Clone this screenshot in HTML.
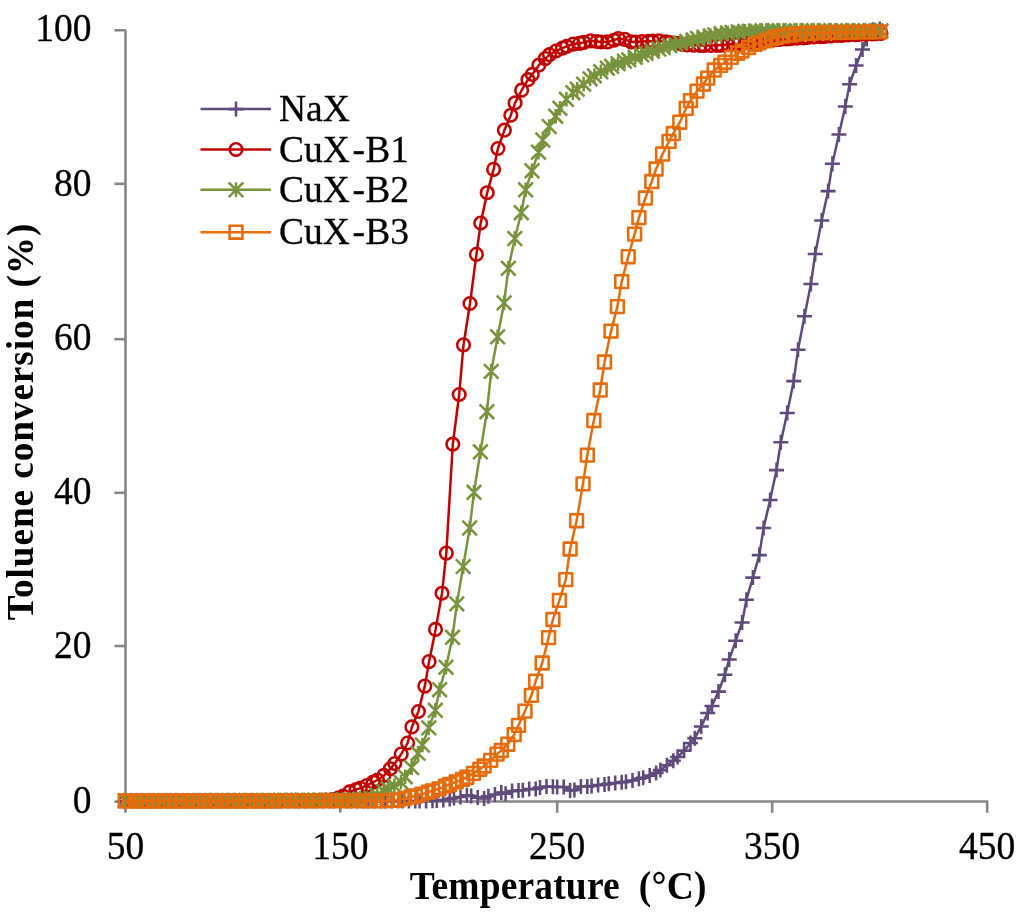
<!DOCTYPE html>
<html lang="en">
<head>
<meta charset="utf-8">
<title>Toluene conversion vs temperature</title>
<style>
html,body{margin:0;padding:0;background:#fff;}
body{width:1024px;height:912px;overflow:hidden;font-family:"Liberation Serif",serif;}
svg{display:block;}
text{filter:grayscale(1);}
text{font-family:"Liberation Serif",serif;fill:#000;stroke:#000;stroke-width:0.3px;}
.tick{font-size:37.5px;}
.ttl{font-size:37.5px;font-weight:bold;stroke:none;}
.ttly{font-size:37.2px;}
.leg{font-size:37.5px;}
</style>
</head>
<body>
<svg width="1024" height="912" viewBox="0 0 1024 912">
<rect x="0" y="0" width="1024" height="912" fill="#ffffff"/>

<g stroke="#868686" stroke-width="2.6" fill="none" stroke-linecap="butt">
<path stroke-linejoin="bevel" d="M114.4 30.3H125.5V812.7"/>
<path stroke-linejoin="round" d="M124.20 801.5H987.2V812.7"/>
<path d="M114.4 801.70H125.5"/>
<path d="M114.4 646.00H125.5"/>
<path d="M114.4 492.85H125.5"/>
<path d="M114.4 339.15H125.5"/>
<path d="M114.4 183.80H125.5"/>
<path d="M340.30 801.5V812.7"/>
<path d="M557.20 801.5V812.7"/>
<path d="M772.20 801.5V812.7"/>
</g>
<text class="tick" transform="translate(91.4 813.2) scale(1 1.065)" text-anchor="end">0</text>
<text class="tick" transform="translate(91.4 657.5) scale(1 1.065)" text-anchor="end">20</text>
<text class="tick" transform="translate(91.4 504.4) scale(1 1.065)" text-anchor="end">40</text>
<text class="tick" transform="translate(91.4 350.4) scale(1 1.065)" text-anchor="end">60</text>
<text class="tick" transform="translate(91.4 195.8) scale(1 1.065)" text-anchor="end">80</text>
<text class="tick" transform="translate(91.4 41.4) scale(1 1.065)" text-anchor="end">100</text>
<text class="tick" transform="translate(125.5 859.2) scale(1 1.065)" text-anchor="middle">50</text>
<text class="tick" transform="translate(340.3 859.2) scale(1 1.065)" text-anchor="middle">150</text>
<text class="tick" transform="translate(557.2 859.2) scale(1 1.065)" text-anchor="middle">250</text>
<text class="tick" transform="translate(772.2 859.2) scale(1 1.065)" text-anchor="middle">350</text>
<text class="tick" transform="translate(987.2 859.2) scale(1 1.065)" text-anchor="middle">450</text>
<text class="ttl" transform="translate(409.8 898.6) scale(1 1.05)" textLength="296.6" lengthAdjust="spacing" xml:space="preserve">Temperature  (°C)</text>
<text class="ttl ttly" transform="translate(32.9 620.3) rotate(-90)" textLength="396.6" lengthAdjust="spacing" xml:space="preserve">Toluene conversion (%)</text>
<g stroke="#604A7B" fill="none" stroke-linejoin="round">
<polyline stroke-width="2.5" points="125.2,801.0 133.7,801.0 140.1,801.0 144.4,801.0 150.9,801.0 157.3,801.0 161.6,801.0 168.1,801.0 174.5,801.0 178.8,801.0 185.3,801.0 191.7,801.0 196.0,801.0 202.5,801.0 208.9,801.0 213.2,801.0 219.7,801.0 226.1,801.0 230.4,801.0 236.9,801.0 243.3,801.0 247.6,801.0 254.1,801.0 260.5,801.0 264.8,801.0 271.3,801.0 277.7,801.0 282.0,801.0 288.5,801.0 294.9,801.0 299.2,801.0 305.7,801.0 312.1,801.0 316.4,801.0 322.9,801.0 329.3,801.0 333.6,801.0 340.1,801.0 346.5,801.0 350.8,801.0 357.3,801.0 363.7,801.0 368.0,801.0 374.5,801.0 380.9,801.0 385.2,801.0 391.7,801.0 398.1,801.0 402.4,801.0 408.9,801.0 415.3,801.0 419.6,801.0 426.1,800.9 432.5,800.8 436.8,800.6 443.3,800.1 449.7,799.0 454.0,798.0 460.5,797.0 466.9,795.3 471.2,796.0 477.7,797.6 484.1,798.4 488.4,796.3 494.9,794.4 501.3,792.6 505.6,793.7 512.1,791.1 518.5,790.4 522.8,790.2 529.2,789.1 535.7,788.9 540.0,787.5 546.5,786.5 552.9,786.8 557.2,786.9 563.7,786.9 570.1,790.4 574.4,790.0 580.9,786.5 587.3,786.4 591.6,786.0 598.1,785.1 604.5,784.4 608.8,783.8 615.2,782.9 621.7,782.3 626.0,781.7 632.5,780.4 638.9,778.7 643.2,777.7 649.7,775.6 656.1,772.9 660.4,770.1 666.9,765.3 673.3,760.8 677.6,757.0 684.1,750.6 690.5,743.0 694.8,738.2 701.2,726.4 707.7,713.0 712.0,705.9 718.5,691.6 724.9,674.7 729.2,659.4 735.7,640.8 742.1,622.5 746.4,599.7 752.9,577.6 759.3,555.1 763.6,527.9 770.1,500.0 776.5,470.1 780.8,442.3 787.2,413.0 793.7,381.1 798.0,349.7 804.5,316.3 810.9,283.9 815.2,254.0 821.7,220.4 828.1,191.1 832.4,163.8 838.9,134.4 845.3,106.4 849.6,84.3 856.1,65.5 862.5,49.4 866.8,39.0 873.2,29.8 879.7,29.0"/>
<path stroke-width="2.55" d="M117.7 801.0H132.7M125.2 793.5V808.5M126.2 801.0H141.2M133.7 793.5V808.5M132.6 801.0H147.6M140.1 793.5V808.5M136.9 801.0H151.9M144.4 793.5V808.5M143.4 801.0H158.4M150.9 793.5V808.5M149.8 801.0H164.8M157.3 793.5V808.5M154.1 801.0H169.1M161.6 793.5V808.5M160.6 801.0H175.6M168.1 793.5V808.5M167.0 801.0H182.0M174.5 793.5V808.5M171.3 801.0H186.3M178.8 793.5V808.5M177.8 801.0H192.8M185.3 793.5V808.5M184.2 801.0H199.2M191.7 793.5V808.5M188.5 801.0H203.5M196.0 793.5V808.5M195.0 801.0H210.0M202.5 793.5V808.5M201.4 801.0H216.4M208.9 793.5V808.5M205.7 801.0H220.7M213.2 793.5V808.5M212.2 801.0H227.2M219.7 793.5V808.5M218.6 801.0H233.6M226.1 793.5V808.5M222.9 801.0H237.9M230.4 793.5V808.5M229.4 801.0H244.4M236.9 793.5V808.5M235.8 801.0H250.8M243.3 793.5V808.5M240.1 801.0H255.1M247.6 793.5V808.5M246.6 801.0H261.6M254.1 793.5V808.5M253.0 801.0H268.0M260.5 793.5V808.5M257.3 801.0H272.3M264.8 793.5V808.5M263.8 801.0H278.8M271.3 793.5V808.5M270.2 801.0H285.2M277.7 793.5V808.5M274.5 801.0H289.5M282.0 793.5V808.5M281.0 801.0H296.0M288.5 793.5V808.5M287.4 801.0H302.4M294.9 793.5V808.5M291.7 801.0H306.7M299.2 793.5V808.5M298.2 801.0H313.2M305.7 793.5V808.5M304.6 801.0H319.6M312.1 793.5V808.5M308.9 801.0H323.9M316.4 793.5V808.5M315.4 801.0H330.4M322.9 793.5V808.5M321.8 801.0H336.8M329.3 793.5V808.5M326.1 801.0H341.1M333.6 793.5V808.5M332.6 801.0H347.6M340.1 793.5V808.5M339.0 801.0H354.0M346.5 793.5V808.5M343.3 801.0H358.3M350.8 793.5V808.5M349.8 801.0H364.8M357.3 793.5V808.5M356.2 801.0H371.2M363.7 793.5V808.5M360.5 801.0H375.5M368.0 793.5V808.5M367.0 801.0H382.0M374.5 793.5V808.5M373.4 801.0H388.4M380.9 793.5V808.5M377.7 801.0H392.7M385.2 793.5V808.5M384.2 801.0H399.2M391.7 793.5V808.5M390.6 801.0H405.6M398.1 793.5V808.5M394.9 801.0H409.9M402.4 793.5V808.5M401.4 801.0H416.4M408.9 793.5V808.5M407.8 801.0H422.8M415.3 793.5V808.5M412.1 801.0H427.1M419.6 793.5V808.5M418.6 800.9H433.6M426.1 793.4V808.4M425.0 800.8H440.0M432.5 793.3V808.3M429.3 800.6H444.3M436.8 793.1V808.1M435.8 800.1H450.8M443.3 792.6V807.6M442.2 799.0H457.2M449.7 791.5V806.5M446.5 798.0H461.5M454.0 790.5V805.5M453.0 797.0H468.0M460.5 789.5V804.5M459.4 795.3H474.4M466.9 787.8V802.8M463.7 796.0H478.7M471.2 788.5V803.5M470.2 797.6H485.2M477.7 790.1V805.1M476.6 798.4H491.6M484.1 790.9V805.9M480.9 796.3H495.9M488.4 788.8V803.8M487.4 794.4H502.4M494.9 786.9V801.9M493.8 792.6H508.8M501.3 785.1V800.1M498.1 793.7H513.1M505.6 786.2V801.2M504.6 791.1H519.6M512.1 783.6V798.6M511.0 790.4H526.0M518.5 782.9V797.9M515.3 790.2H530.3M522.8 782.7V797.7M521.8 789.1H536.8M529.2 781.6V796.6M528.2 788.9H543.2M535.7 781.4V796.4M532.5 787.5H547.5M540.0 780.0V795.0M539.0 786.5H554.0M546.5 779.0V794.0M545.4 786.8H560.4M552.9 779.3V794.3M549.7 786.9H564.7M557.2 779.4V794.4M556.2 786.9H571.2M563.7 779.4V794.4M562.6 790.4H577.6M570.1 782.9V797.9M566.9 790.0H581.9M574.4 782.5V797.5M573.4 786.5H588.4M580.9 779.0V794.0M579.8 786.4H594.8M587.3 778.9V793.9M584.1 786.0H599.1M591.6 778.5V793.5M590.6 785.1H605.6M598.1 777.6V792.6M597.0 784.4H612.0M604.5 776.9V791.9M601.3 783.8H616.3M608.8 776.3V791.3M607.8 782.9H622.8M615.2 775.4V790.4M614.2 782.3H629.2M621.7 774.8V789.8M618.5 781.7H633.5M626.0 774.2V789.2M625.0 780.4H640.0M632.5 772.9V787.9M631.4 778.7H646.4M638.9 771.2V786.2M635.7 777.7H650.7M643.2 770.2V785.2M642.2 775.6H657.2M649.7 768.1V783.1M648.6 772.9H663.6M656.1 765.4V780.4M652.9 770.1H667.9M660.4 762.6V777.6M659.4 765.3H674.4M666.9 757.8V772.8M665.8 760.8H680.8M673.3 753.3V768.3M670.1 757.0H685.1M677.6 749.5V764.5M676.6 750.6H691.6M684.1 743.1V758.1M683.0 743.0H698.0M690.5 735.5V750.5M687.3 738.2H702.3M694.8 730.7V745.7M693.8 726.4H708.8M701.2 718.9V733.9M700.2 713.0H715.2M707.7 705.5V720.5M704.5 705.9H719.5M712.0 698.4V713.4M711.0 691.6H726.0M718.5 684.1V699.1M717.4 674.7H732.4M724.9 667.2V682.2M721.7 659.4H736.7M729.2 651.9V666.9M728.2 640.8H743.2M735.7 633.3V648.3M734.6 622.5H749.6M742.1 615.0V630.0M738.9 599.7H753.9M746.4 592.2V607.2M745.4 577.6H760.4M752.9 570.1V585.1M751.8 555.1H766.8M759.3 547.6V562.6M756.1 527.9H771.1M763.6 520.4V535.4M762.6 500.0H777.6M770.1 492.5V507.5M769.0 470.1H784.0M776.5 462.6V477.6M773.3 442.3H788.3M780.8 434.8V449.8M779.8 413.0H794.8M787.2 405.5V420.5M786.2 381.1H801.2M793.7 373.6V388.6M790.5 349.7H805.5M798.0 342.2V357.2M797.0 316.3H812.0M804.5 308.8V323.8M803.4 283.9H818.4M810.9 276.4V291.4M807.7 254.0H822.7M815.2 246.5V261.5M814.2 220.4H829.2M821.7 212.9V227.9M820.6 191.1H835.6M828.1 183.6V198.6M824.9 163.8H839.9M832.4 156.3V171.3M831.4 134.4H846.4M838.9 126.9V141.9M837.8 106.4H852.8M845.3 98.9V113.9M842.1 84.3H857.1M849.6 76.8V91.8M848.6 65.5H863.6M856.1 58.0V73.0M855.0 49.4H870.0M862.5 41.9V56.9M859.3 39.0H874.3M866.8 31.5V46.5M865.8 29.8H880.8M873.2 22.3V37.3M872.2 29.0H887.2M879.7 21.5V36.5"/>
</g>
<g stroke="#C00000" fill="none" stroke-linejoin="round">
<polyline stroke-width="2.5" points="125.2,800.9 132.4,800.9 136.7,800.9 143.2,800.9 149.6,800.9 153.9,800.9 160.4,800.9 166.8,800.9 171.1,800.9 177.6,800.9 184.0,800.9 188.3,800.9 194.8,800.9 201.2,800.9 205.5,800.9 212.0,800.9 218.4,800.9 222.7,800.9 229.2,800.8 235.6,800.8 239.9,800.8 246.4,800.8 252.8,800.8 257.1,800.8 263.6,800.8 270.0,800.8 274.3,800.8 280.8,800.7 287.2,800.7 291.5,800.7 298.0,800.7 304.4,800.7 308.7,800.6 315.2,800.5 321.6,800.2 325.9,800.0 332.4,799.5 338.8,797.9 343.1,796.0 349.6,791.9 356.0,789.6 360.3,788.1 366.8,785.5 373.2,782.2 377.5,780.0 384.0,775.4 390.4,768.7 394.7,763.5 401.2,754.1 407.6,743.0 411.9,726.9 418.4,711.5 424.8,686.1 429.1,661.6 435.6,629.4 442.0,593.2 446.3,553.1 452.8,444.2 459.2,394.5 463.5,344.9 470.0,303.5 476.4,254.4 480.7,223.0 487.2,192.7 493.6,169.4 497.9,148.5 504.4,130.2 510.8,115.2 515.1,102.9 521.6,90.2 528.0,79.7 532.3,74.4 538.8,65.2 545.2,58.6 549.5,54.7 556.0,51.0 562.4,48.1 566.7,46.3 573.1,44.1 579.6,43.3 583.9,42.4 590.4,40.8 596.8,41.5 601.1,42.0 607.6,41.9 614.0,40.2 618.3,38.5 624.8,39.3 631.2,41.8 635.5,42.0 642.0,41.6 648.4,41.3 652.7,41.2 659.1,40.9 665.6,41.8 669.9,42.5 676.4,43.4 682.8,44.3 687.1,44.8 693.6,45.1 700.0,45.4 704.3,45.4 710.8,45.5 717.2,45.3 721.5,45.1 728.0,44.6 734.4,44.1 738.7,43.7 745.1,42.9 751.6,42.1 755.9,41.6 762.4,41.0 768.8,40.4 773.1,40.0 779.6,39.5 786.0,39.0 790.3,38.7 796.8,38.2 803.2,37.8 807.5,37.5 814.0,37.0 820.4,36.6 824.7,36.3 831.1,35.9 837.6,35.5 841.9,35.3 848.4,34.9 854.8,34.6 859.1,34.4 865.6,34.1 872.0,33.8 876.3,33.6 881.0,33.4"/>
<path stroke-width="2.55" d="M118.9 800.9a6.3 6.3 0 1 0 12.6 0a6.3 6.3 0 1 0 -12.6 0zM126.1 800.9a6.3 6.3 0 1 0 12.6 0a6.3 6.3 0 1 0 -12.6 0zM130.4 800.9a6.3 6.3 0 1 0 12.6 0a6.3 6.3 0 1 0 -12.6 0zM136.9 800.9a6.3 6.3 0 1 0 12.6 0a6.3 6.3 0 1 0 -12.6 0zM143.3 800.9a6.3 6.3 0 1 0 12.6 0a6.3 6.3 0 1 0 -12.6 0zM147.6 800.9a6.3 6.3 0 1 0 12.6 0a6.3 6.3 0 1 0 -12.6 0zM154.1 800.9a6.3 6.3 0 1 0 12.6 0a6.3 6.3 0 1 0 -12.6 0zM160.5 800.9a6.3 6.3 0 1 0 12.6 0a6.3 6.3 0 1 0 -12.6 0zM164.8 800.9a6.3 6.3 0 1 0 12.6 0a6.3 6.3 0 1 0 -12.6 0zM171.3 800.9a6.3 6.3 0 1 0 12.6 0a6.3 6.3 0 1 0 -12.6 0zM177.7 800.9a6.3 6.3 0 1 0 12.6 0a6.3 6.3 0 1 0 -12.6 0zM182.0 800.9a6.3 6.3 0 1 0 12.6 0a6.3 6.3 0 1 0 -12.6 0zM188.5 800.9a6.3 6.3 0 1 0 12.6 0a6.3 6.3 0 1 0 -12.6 0zM194.9 800.9a6.3 6.3 0 1 0 12.6 0a6.3 6.3 0 1 0 -12.6 0zM199.2 800.9a6.3 6.3 0 1 0 12.6 0a6.3 6.3 0 1 0 -12.6 0zM205.7 800.9a6.3 6.3 0 1 0 12.6 0a6.3 6.3 0 1 0 -12.6 0zM212.1 800.9a6.3 6.3 0 1 0 12.6 0a6.3 6.3 0 1 0 -12.6 0zM216.4 800.9a6.3 6.3 0 1 0 12.6 0a6.3 6.3 0 1 0 -12.6 0zM222.9 800.8a6.3 6.3 0 1 0 12.6 0a6.3 6.3 0 1 0 -12.6 0zM229.3 800.8a6.3 6.3 0 1 0 12.6 0a6.3 6.3 0 1 0 -12.6 0zM233.6 800.8a6.3 6.3 0 1 0 12.6 0a6.3 6.3 0 1 0 -12.6 0zM240.1 800.8a6.3 6.3 0 1 0 12.6 0a6.3 6.3 0 1 0 -12.6 0zM246.5 800.8a6.3 6.3 0 1 0 12.6 0a6.3 6.3 0 1 0 -12.6 0zM250.8 800.8a6.3 6.3 0 1 0 12.6 0a6.3 6.3 0 1 0 -12.6 0zM257.3 800.8a6.3 6.3 0 1 0 12.6 0a6.3 6.3 0 1 0 -12.6 0zM263.7 800.8a6.3 6.3 0 1 0 12.6 0a6.3 6.3 0 1 0 -12.6 0zM268.0 800.8a6.3 6.3 0 1 0 12.6 0a6.3 6.3 0 1 0 -12.6 0zM274.5 800.7a6.3 6.3 0 1 0 12.6 0a6.3 6.3 0 1 0 -12.6 0zM280.9 800.7a6.3 6.3 0 1 0 12.6 0a6.3 6.3 0 1 0 -12.6 0zM285.2 800.7a6.3 6.3 0 1 0 12.6 0a6.3 6.3 0 1 0 -12.6 0zM291.7 800.7a6.3 6.3 0 1 0 12.6 0a6.3 6.3 0 1 0 -12.6 0zM298.1 800.7a6.3 6.3 0 1 0 12.6 0a6.3 6.3 0 1 0 -12.6 0zM302.4 800.6a6.3 6.3 0 1 0 12.6 0a6.3 6.3 0 1 0 -12.6 0zM308.9 800.5a6.3 6.3 0 1 0 12.6 0a6.3 6.3 0 1 0 -12.6 0zM315.3 800.2a6.3 6.3 0 1 0 12.6 0a6.3 6.3 0 1 0 -12.6 0zM319.6 800.0a6.3 6.3 0 1 0 12.6 0a6.3 6.3 0 1 0 -12.6 0zM326.1 799.5a6.3 6.3 0 1 0 12.6 0a6.3 6.3 0 1 0 -12.6 0zM332.5 797.9a6.3 6.3 0 1 0 12.6 0a6.3 6.3 0 1 0 -12.6 0zM336.8 796.0a6.3 6.3 0 1 0 12.6 0a6.3 6.3 0 1 0 -12.6 0zM343.3 791.9a6.3 6.3 0 1 0 12.6 0a6.3 6.3 0 1 0 -12.6 0zM349.7 789.6a6.3 6.3 0 1 0 12.6 0a6.3 6.3 0 1 0 -12.6 0zM354.0 788.1a6.3 6.3 0 1 0 12.6 0a6.3 6.3 0 1 0 -12.6 0zM360.5 785.5a6.3 6.3 0 1 0 12.6 0a6.3 6.3 0 1 0 -12.6 0zM366.9 782.2a6.3 6.3 0 1 0 12.6 0a6.3 6.3 0 1 0 -12.6 0zM371.2 780.0a6.3 6.3 0 1 0 12.6 0a6.3 6.3 0 1 0 -12.6 0zM377.7 775.4a6.3 6.3 0 1 0 12.6 0a6.3 6.3 0 1 0 -12.6 0zM384.1 768.7a6.3 6.3 0 1 0 12.6 0a6.3 6.3 0 1 0 -12.6 0zM388.4 763.5a6.3 6.3 0 1 0 12.6 0a6.3 6.3 0 1 0 -12.6 0zM394.9 754.1a6.3 6.3 0 1 0 12.6 0a6.3 6.3 0 1 0 -12.6 0zM401.3 743.0a6.3 6.3 0 1 0 12.6 0a6.3 6.3 0 1 0 -12.6 0zM405.6 726.9a6.3 6.3 0 1 0 12.6 0a6.3 6.3 0 1 0 -12.6 0zM412.1 711.5a6.3 6.3 0 1 0 12.6 0a6.3 6.3 0 1 0 -12.6 0zM418.5 686.1a6.3 6.3 0 1 0 12.6 0a6.3 6.3 0 1 0 -12.6 0zM422.8 661.6a6.3 6.3 0 1 0 12.6 0a6.3 6.3 0 1 0 -12.6 0zM429.2 629.4a6.3 6.3 0 1 0 12.6 0a6.3 6.3 0 1 0 -12.6 0zM435.7 593.2a6.3 6.3 0 1 0 12.6 0a6.3 6.3 0 1 0 -12.6 0zM440.0 553.1a6.3 6.3 0 1 0 12.6 0a6.3 6.3 0 1 0 -12.6 0zM446.5 444.2a6.3 6.3 0 1 0 12.6 0a6.3 6.3 0 1 0 -12.6 0zM452.9 394.5a6.3 6.3 0 1 0 12.6 0a6.3 6.3 0 1 0 -12.6 0zM457.2 344.9a6.3 6.3 0 1 0 12.6 0a6.3 6.3 0 1 0 -12.6 0zM463.7 303.5a6.3 6.3 0 1 0 12.6 0a6.3 6.3 0 1 0 -12.6 0zM470.1 254.4a6.3 6.3 0 1 0 12.6 0a6.3 6.3 0 1 0 -12.6 0zM474.4 223.0a6.3 6.3 0 1 0 12.6 0a6.3 6.3 0 1 0 -12.6 0zM480.9 192.7a6.3 6.3 0 1 0 12.6 0a6.3 6.3 0 1 0 -12.6 0zM487.3 169.4a6.3 6.3 0 1 0 12.6 0a6.3 6.3 0 1 0 -12.6 0zM491.6 148.5a6.3 6.3 0 1 0 12.6 0a6.3 6.3 0 1 0 -12.6 0zM498.1 130.2a6.3 6.3 0 1 0 12.6 0a6.3 6.3 0 1 0 -12.6 0zM504.5 115.2a6.3 6.3 0 1 0 12.6 0a6.3 6.3 0 1 0 -12.6 0zM508.8 102.9a6.3 6.3 0 1 0 12.6 0a6.3 6.3 0 1 0 -12.6 0zM515.3 90.2a6.3 6.3 0 1 0 12.6 0a6.3 6.3 0 1 0 -12.6 0zM521.7 79.7a6.3 6.3 0 1 0 12.6 0a6.3 6.3 0 1 0 -12.6 0zM526.0 74.4a6.3 6.3 0 1 0 12.6 0a6.3 6.3 0 1 0 -12.6 0zM532.5 65.2a6.3 6.3 0 1 0 12.6 0a6.3 6.3 0 1 0 -12.6 0zM538.9 58.6a6.3 6.3 0 1 0 12.6 0a6.3 6.3 0 1 0 -12.6 0zM543.2 54.7a6.3 6.3 0 1 0 12.6 0a6.3 6.3 0 1 0 -12.6 0zM549.7 51.0a6.3 6.3 0 1 0 12.6 0a6.3 6.3 0 1 0 -12.6 0zM556.1 48.1a6.3 6.3 0 1 0 12.6 0a6.3 6.3 0 1 0 -12.6 0zM560.4 46.3a6.3 6.3 0 1 0 12.6 0a6.3 6.3 0 1 0 -12.6 0zM566.9 44.1a6.3 6.3 0 1 0 12.6 0a6.3 6.3 0 1 0 -12.6 0zM573.3 43.3a6.3 6.3 0 1 0 12.6 0a6.3 6.3 0 1 0 -12.6 0zM577.6 42.4a6.3 6.3 0 1 0 12.6 0a6.3 6.3 0 1 0 -12.6 0zM584.1 40.8a6.3 6.3 0 1 0 12.6 0a6.3 6.3 0 1 0 -12.6 0zM590.5 41.5a6.3 6.3 0 1 0 12.6 0a6.3 6.3 0 1 0 -12.6 0zM594.8 42.0a6.3 6.3 0 1 0 12.6 0a6.3 6.3 0 1 0 -12.6 0zM601.3 41.9a6.3 6.3 0 1 0 12.6 0a6.3 6.3 0 1 0 -12.6 0zM607.7 40.2a6.3 6.3 0 1 0 12.6 0a6.3 6.3 0 1 0 -12.6 0zM612.0 38.5a6.3 6.3 0 1 0 12.6 0a6.3 6.3 0 1 0 -12.6 0zM618.5 39.3a6.3 6.3 0 1 0 12.6 0a6.3 6.3 0 1 0 -12.6 0zM624.9 41.8a6.3 6.3 0 1 0 12.6 0a6.3 6.3 0 1 0 -12.6 0zM629.2 42.0a6.3 6.3 0 1 0 12.6 0a6.3 6.3 0 1 0 -12.6 0zM635.7 41.6a6.3 6.3 0 1 0 12.6 0a6.3 6.3 0 1 0 -12.6 0zM642.1 41.3a6.3 6.3 0 1 0 12.6 0a6.3 6.3 0 1 0 -12.6 0zM646.4 41.2a6.3 6.3 0 1 0 12.6 0a6.3 6.3 0 1 0 -12.6 0zM652.9 40.9a6.3 6.3 0 1 0 12.6 0a6.3 6.3 0 1 0 -12.6 0zM659.3 41.8a6.3 6.3 0 1 0 12.6 0a6.3 6.3 0 1 0 -12.6 0zM663.6 42.5a6.3 6.3 0 1 0 12.6 0a6.3 6.3 0 1 0 -12.6 0zM670.1 43.4a6.3 6.3 0 1 0 12.6 0a6.3 6.3 0 1 0 -12.6 0zM676.5 44.3a6.3 6.3 0 1 0 12.6 0a6.3 6.3 0 1 0 -12.6 0zM680.8 44.8a6.3 6.3 0 1 0 12.6 0a6.3 6.3 0 1 0 -12.6 0zM687.3 45.1a6.3 6.3 0 1 0 12.6 0a6.3 6.3 0 1 0 -12.6 0zM693.7 45.4a6.3 6.3 0 1 0 12.6 0a6.3 6.3 0 1 0 -12.6 0zM698.0 45.4a6.3 6.3 0 1 0 12.6 0a6.3 6.3 0 1 0 -12.6 0zM704.5 45.5a6.3 6.3 0 1 0 12.6 0a6.3 6.3 0 1 0 -12.6 0zM710.9 45.3a6.3 6.3 0 1 0 12.6 0a6.3 6.3 0 1 0 -12.6 0zM715.2 45.1a6.3 6.3 0 1 0 12.6 0a6.3 6.3 0 1 0 -12.6 0zM721.7 44.6a6.3 6.3 0 1 0 12.6 0a6.3 6.3 0 1 0 -12.6 0zM728.1 44.1a6.3 6.3 0 1 0 12.6 0a6.3 6.3 0 1 0 -12.6 0zM732.4 43.7a6.3 6.3 0 1 0 12.6 0a6.3 6.3 0 1 0 -12.6 0zM738.9 42.9a6.3 6.3 0 1 0 12.6 0a6.3 6.3 0 1 0 -12.6 0zM745.3 42.1a6.3 6.3 0 1 0 12.6 0a6.3 6.3 0 1 0 -12.6 0zM749.6 41.6a6.3 6.3 0 1 0 12.6 0a6.3 6.3 0 1 0 -12.6 0zM756.1 41.0a6.3 6.3 0 1 0 12.6 0a6.3 6.3 0 1 0 -12.6 0zM762.5 40.4a6.3 6.3 0 1 0 12.6 0a6.3 6.3 0 1 0 -12.6 0zM766.8 40.0a6.3 6.3 0 1 0 12.6 0a6.3 6.3 0 1 0 -12.6 0zM773.3 39.5a6.3 6.3 0 1 0 12.6 0a6.3 6.3 0 1 0 -12.6 0zM779.7 39.0a6.3 6.3 0 1 0 12.6 0a6.3 6.3 0 1 0 -12.6 0zM784.0 38.7a6.3 6.3 0 1 0 12.6 0a6.3 6.3 0 1 0 -12.6 0zM790.5 38.2a6.3 6.3 0 1 0 12.6 0a6.3 6.3 0 1 0 -12.6 0zM796.9 37.8a6.3 6.3 0 1 0 12.6 0a6.3 6.3 0 1 0 -12.6 0zM801.2 37.5a6.3 6.3 0 1 0 12.6 0a6.3 6.3 0 1 0 -12.6 0zM807.7 37.0a6.3 6.3 0 1 0 12.6 0a6.3 6.3 0 1 0 -12.6 0zM814.1 36.6a6.3 6.3 0 1 0 12.6 0a6.3 6.3 0 1 0 -12.6 0zM818.4 36.3a6.3 6.3 0 1 0 12.6 0a6.3 6.3 0 1 0 -12.6 0zM824.9 35.9a6.3 6.3 0 1 0 12.6 0a6.3 6.3 0 1 0 -12.6 0zM831.3 35.5a6.3 6.3 0 1 0 12.6 0a6.3 6.3 0 1 0 -12.6 0zM835.6 35.3a6.3 6.3 0 1 0 12.6 0a6.3 6.3 0 1 0 -12.6 0zM842.1 34.9a6.3 6.3 0 1 0 12.6 0a6.3 6.3 0 1 0 -12.6 0zM848.5 34.6a6.3 6.3 0 1 0 12.6 0a6.3 6.3 0 1 0 -12.6 0zM852.8 34.4a6.3 6.3 0 1 0 12.6 0a6.3 6.3 0 1 0 -12.6 0zM859.3 34.1a6.3 6.3 0 1 0 12.6 0a6.3 6.3 0 1 0 -12.6 0zM865.7 33.8a6.3 6.3 0 1 0 12.6 0a6.3 6.3 0 1 0 -12.6 0zM870.0 33.6a6.3 6.3 0 1 0 12.6 0a6.3 6.3 0 1 0 -12.6 0zM874.7 33.4a6.3 6.3 0 1 0 12.6 0a6.3 6.3 0 1 0 -12.6 0z"/>
</g>
<g stroke="#77933C" fill="none" stroke-linejoin="round">
<polyline stroke-width="2.5" points="125.2,800.6 130.0,800.6 136.4,800.6 142.9,800.6 147.2,800.6 153.6,800.6 160.1,800.6 164.4,800.6 170.8,800.6 177.3,800.6 181.6,800.6 188.0,800.6 194.5,800.6 198.8,800.6 205.2,800.5 211.7,800.5 216.0,800.5 222.4,800.5 228.9,800.5 233.2,800.5 239.6,800.5 246.1,800.4 250.4,800.4 256.8,800.4 263.3,800.4 267.6,800.4 274.0,800.4 280.5,800.3 284.8,800.3 291.2,800.3 297.7,800.2 302.0,800.2 308.4,800.2 314.9,800.2 319.2,800.1 325.6,800.1 332.1,800.1 336.4,800.0 342.8,800.0 349.3,799.8 353.6,799.6 360.0,799.2 366.5,798.7 370.8,798.2 377.2,795.3 383.7,791.3 388.0,788.5 394.4,785.8 400.9,782.2 405.2,776.7 411.6,767.6 418.1,753.4 422.4,745.0 428.8,727.9 435.3,710.3 439.6,689.7 446.0,667.2 452.5,637.3 456.8,603.9 463.2,566.6 469.7,528.0 474.0,492.3 480.4,451.8 486.9,411.7 491.2,371.4 497.6,336.8 504.1,302.9 508.4,268.3 514.8,238.5 521.3,212.7 525.6,189.8 532.0,170.8 538.5,152.2 542.8,140.0 549.2,126.5 555.7,116.2 560.0,108.3 566.4,99.3 572.9,92.7 577.2,89.2 583.6,84.1 590.1,78.9 594.4,75.9 600.8,71.8 607.3,68.2 611.6,66.3 618.0,63.7 624.5,61.2 628.8,59.9 635.2,57.3 641.7,54.8 646.0,53.3 652.4,51.2 658.9,49.0 663.2,47.5 669.6,45.5 676.1,44.4 680.4,43.0 686.8,41.4 693.3,40.0 697.6,38.5 704.0,37.3 710.5,35.9 714.8,34.9 721.2,33.8 727.7,33.0 732.0,32.5 738.4,31.9 744.9,31.4 749.2,31.2 755.6,30.9 762.1,30.8 766.4,30.8 772.8,30.7 779.3,30.7 783.6,30.6 790.0,30.6 796.5,30.6 800.8,30.6 807.2,30.6 813.7,30.6 818.0,30.6 824.4,30.6 830.9,30.6 835.2,30.6 841.6,30.6 848.1,30.6 852.4,30.7 858.8,30.7 865.3,30.7 869.6,30.7 876.0,30.8 881.0,30.8"/>
<path stroke-width="2.55" d="M117.9 793.3L132.5 807.9M117.9 807.9L132.5 793.3M125.2 793.3V807.9M122.7 793.3L137.3 807.9M122.7 807.9L137.3 793.3M130.0 793.3V807.9M129.1 793.3L143.7 807.9M129.1 807.9L143.7 793.3M136.4 793.3V807.9M135.6 793.3L150.2 807.9M135.6 807.9L150.2 793.3M142.9 793.3V807.9M139.9 793.3L154.5 807.9M139.9 807.9L154.5 793.3M147.2 793.3V807.9M146.3 793.3L160.9 807.9M146.3 807.9L160.9 793.3M153.6 793.3V807.9M152.8 793.3L167.4 807.9M152.8 807.9L167.4 793.3M160.1 793.3V807.9M157.1 793.3L171.7 807.9M157.1 807.9L171.7 793.3M164.4 793.3V807.9M163.5 793.3L178.1 807.9M163.5 807.9L178.1 793.3M170.8 793.3V807.9M170.0 793.3L184.6 807.9M170.0 807.9L184.6 793.3M177.3 793.3V807.9M174.3 793.3L188.9 807.9M174.3 807.9L188.9 793.3M181.6 793.3V807.9M180.7 793.3L195.3 807.9M180.7 807.9L195.3 793.3M188.0 793.3V807.9M187.2 793.3L201.8 807.9M187.2 807.9L201.8 793.3M194.5 793.3V807.9M191.5 793.3L206.1 807.9M191.5 807.9L206.1 793.3M198.8 793.3V807.9M197.9 793.2L212.5 807.8M197.9 807.8L212.5 793.2M205.2 793.2V807.8M204.4 793.2L219.0 807.8M204.4 807.8L219.0 793.2M211.7 793.2V807.8M208.7 793.2L223.3 807.8M208.7 807.8L223.3 793.2M216.0 793.2V807.8M215.1 793.2L229.7 807.8M215.1 807.8L229.7 793.2M222.4 793.2V807.8M221.6 793.2L236.2 807.8M221.6 807.8L236.2 793.2M228.9 793.2V807.8M225.9 793.2L240.5 807.8M225.9 807.8L240.5 793.2M233.2 793.2V807.8M232.3 793.2L246.9 807.8M232.3 807.8L246.9 793.2M239.6 793.2V807.8M238.8 793.1L253.4 807.7M238.8 807.7L253.4 793.1M246.1 793.1V807.7M243.1 793.1L257.7 807.7M243.1 807.7L257.7 793.1M250.4 793.1V807.7M249.5 793.1L264.1 807.7M249.5 807.7L264.1 793.1M256.8 793.1V807.7M256.0 793.1L270.6 807.7M256.0 807.7L270.6 793.1M263.3 793.1V807.7M260.3 793.1L274.9 807.7M260.3 807.7L274.9 793.1M267.6 793.1V807.7M266.7 793.1L281.3 807.7M266.7 807.7L281.3 793.1M274.0 793.1V807.7M273.2 793.0L287.8 807.6M273.2 807.6L287.8 793.0M280.5 793.0V807.6M277.5 793.0L292.1 807.6M277.5 807.6L292.1 793.0M284.8 793.0V807.6M283.9 793.0L298.5 807.6M283.9 807.6L298.5 793.0M291.2 793.0V807.6M290.4 792.9L305.0 807.5M290.4 807.5L305.0 792.9M297.7 792.9V807.5M294.7 792.9L309.3 807.5M294.7 807.5L309.3 792.9M302.0 792.9V807.5M301.1 792.9L315.7 807.5M301.1 807.5L315.7 792.9M308.4 792.9V807.5M307.6 792.9L322.2 807.5M307.6 807.5L322.2 792.9M314.9 792.9V807.5M311.9 792.8L326.5 807.4M311.9 807.4L326.5 792.8M319.2 792.8V807.4M318.3 792.8L332.9 807.4M318.3 807.4L332.9 792.8M325.6 792.8V807.4M324.8 792.8L339.4 807.4M324.8 807.4L339.4 792.8M332.1 792.8V807.4M329.1 792.7L343.7 807.3M329.1 807.3L343.7 792.7M336.4 792.7V807.3M335.5 792.7L350.1 807.3M335.5 807.3L350.1 792.7M342.8 792.7V807.3M342.0 792.5L356.6 807.1M342.0 807.1L356.6 792.5M349.3 792.5V807.1M346.3 792.3L360.9 806.9M346.3 806.9L360.9 792.3M353.6 792.3V806.9M352.7 791.9L367.3 806.5M352.7 806.5L367.3 791.9M360.0 791.9V806.5M359.2 791.4L373.8 806.0M359.2 806.0L373.8 791.4M366.5 791.4V806.0M363.5 790.9L378.1 805.5M363.5 805.5L378.1 790.9M370.8 790.9V805.5M369.9 788.0L384.5 802.6M369.9 802.6L384.5 788.0M377.2 788.0V802.6M376.4 784.0L391.0 798.6M376.4 798.6L391.0 784.0M383.7 784.0V798.6M380.7 781.2L395.3 795.8M380.7 795.8L395.3 781.2M388.0 781.2V795.8M387.1 778.5L401.7 793.1M387.1 793.1L401.7 778.5M394.4 778.5V793.1M393.6 774.9L408.2 789.5M393.6 789.5L408.2 774.9M400.9 774.9V789.5M397.9 769.4L412.5 784.0M397.9 784.0L412.5 769.4M405.2 769.4V784.0M404.3 760.3L418.9 774.9M404.3 774.9L418.9 760.3M411.6 760.3V774.9M410.8 746.1L425.4 760.7M410.8 760.7L425.4 746.1M418.1 746.1V760.7M415.1 737.7L429.7 752.3M415.1 752.3L429.7 737.7M422.4 737.7V752.3M421.5 720.6L436.1 735.2M421.5 735.2L436.1 720.6M428.8 720.6V735.2M428.0 703.0L442.6 717.6M428.0 717.6L442.6 703.0M435.3 703.0V717.6M432.3 682.4L446.9 697.0M432.3 697.0L446.9 682.4M439.6 682.4V697.0M438.7 659.9L453.3 674.5M438.7 674.5L453.3 659.9M446.0 659.9V674.5M445.2 630.0L459.8 644.6M445.2 644.6L459.8 630.0M452.5 630.0V644.6M449.5 596.6L464.1 611.2M449.5 611.2L464.1 596.6M456.8 596.6V611.2M455.9 559.3L470.5 573.9M455.9 573.9L470.5 559.3M463.2 559.3V573.9M462.4 520.7L477.0 535.3M462.4 535.3L477.0 520.7M469.7 520.7V535.3M466.7 485.0L481.3 499.6M466.7 499.6L481.3 485.0M474.0 485.0V499.6M473.1 444.5L487.7 459.1M473.1 459.1L487.7 444.5M480.4 444.5V459.1M479.6 404.4L494.2 419.0M479.6 419.0L494.2 404.4M486.9 404.4V419.0M483.9 364.1L498.5 378.7M483.9 378.7L498.5 364.1M491.2 364.1V378.7M490.3 329.5L504.9 344.1M490.3 344.1L504.9 329.5M497.6 329.5V344.1M496.8 295.6L511.4 310.2M496.8 310.2L511.4 295.6M504.1 295.6V310.2M501.1 261.0L515.7 275.6M501.1 275.6L515.7 261.0M508.4 261.0V275.6M507.5 231.2L522.1 245.8M507.5 245.8L522.1 231.2M514.8 231.2V245.8M514.0 205.4L528.6 220.0M514.0 220.0L528.6 205.4M521.3 205.4V220.0M518.3 182.5L532.9 197.1M518.3 197.1L532.9 182.5M525.6 182.5V197.1M524.7 163.5L539.3 178.1M524.7 178.1L539.3 163.5M532.0 163.5V178.1M531.2 144.9L545.8 159.5M531.2 159.5L545.8 144.9M538.5 144.9V159.5M535.5 132.7L550.1 147.3M535.5 147.3L550.1 132.7M542.8 132.7V147.3M541.9 119.2L556.5 133.8M541.9 133.8L556.5 119.2M549.2 119.2V133.8M548.4 108.9L563.0 123.5M548.4 123.5L563.0 108.9M555.7 108.9V123.5M552.7 101.0L567.2 115.6M552.7 115.6L567.2 101.0M560.0 101.0V115.6M559.1 92.0L573.7 106.6M559.1 106.6L573.7 92.0M566.4 92.0V106.6M565.6 85.4L580.1 100.0M565.6 100.0L580.1 85.4M572.9 85.4V100.0M569.9 81.9L584.5 96.5M569.9 96.5L584.5 81.9M577.2 81.9V96.5M576.3 76.8L590.9 91.4M576.3 91.4L590.9 76.8M583.6 76.8V91.4M582.8 71.6L597.4 86.2M582.8 86.2L597.4 71.6M590.1 71.6V86.2M587.1 68.6L601.6 83.2M587.1 83.2L601.6 68.6M594.4 68.6V83.2M593.5 64.5L608.1 79.1M593.5 79.1L608.1 64.5M600.8 64.5V79.1M600.0 60.9L614.6 75.5M600.0 75.5L614.6 60.9M607.3 60.9V75.5M604.3 59.0L618.9 73.6M604.3 73.6L618.9 59.0M611.6 59.0V73.6M610.7 56.4L625.3 71.0M610.7 71.0L625.3 56.4M618.0 56.4V71.0M617.2 53.9L631.8 68.5M617.2 68.5L631.8 53.9M624.5 53.9V68.5M621.5 52.6L636.1 67.2M621.5 67.2L636.1 52.6M628.8 52.6V67.2M627.9 50.0L642.5 64.6M627.9 64.6L642.5 50.0M635.2 50.0V64.6M634.4 47.5L649.0 62.1M634.4 62.1L649.0 47.5M641.7 47.5V62.1M638.7 46.0L653.2 60.6M638.7 60.6L653.2 46.0M646.0 46.0V60.6M645.1 43.9L659.7 58.5M645.1 58.5L659.7 43.9M652.4 43.9V58.5M651.6 41.7L666.1 56.3M651.6 56.3L666.1 41.7M658.9 41.7V56.3M655.9 40.2L670.5 54.8M655.9 54.8L670.5 40.2M663.2 40.2V54.8M662.3 38.2L676.9 52.8M662.3 52.8L676.9 38.2M669.6 38.2V52.8M668.8 37.1L683.4 51.7M668.8 51.7L683.4 37.1M676.1 37.1V51.7M673.1 35.7L687.6 50.3M673.1 50.3L687.6 35.7M680.4 35.7V50.3M679.5 34.1L694.1 48.7M679.5 48.7L694.1 34.1M686.8 34.1V48.7M686.0 32.7L700.6 47.3M686.0 47.3L700.6 32.7M693.3 32.7V47.3M690.3 31.2L704.9 45.8M690.3 45.8L704.9 31.2M697.6 31.2V45.8M696.7 30.0L711.3 44.6M696.7 44.6L711.3 30.0M704.0 30.0V44.6M703.2 28.6L717.8 43.2M703.2 43.2L717.8 28.6M710.5 28.6V43.2M707.5 27.6L722.1 42.2M707.5 42.2L722.1 27.6M714.8 27.6V42.2M713.9 26.5L728.5 41.1M713.9 41.1L728.5 26.5M721.2 26.5V41.1M720.4 25.7L735.0 40.3M720.4 40.3L735.0 25.7M727.7 25.7V40.3M724.7 25.2L739.2 39.8M724.7 39.8L739.2 25.2M732.0 25.2V39.8M731.1 24.6L745.7 39.2M731.1 39.2L745.7 24.6M738.4 24.6V39.2M737.6 24.1L752.1 38.7M737.6 38.7L752.1 24.1M744.9 24.1V38.7M741.9 23.9L756.5 38.5M741.9 38.5L756.5 23.9M749.2 23.9V38.5M748.3 23.6L762.9 38.2M748.3 38.2L762.9 23.6M755.6 23.6V38.2M754.8 23.5L769.4 38.1M754.8 38.1L769.4 23.5M762.1 23.5V38.1M759.1 23.5L773.6 38.1M759.1 38.1L773.6 23.5M766.4 23.5V38.1M765.5 23.4L780.1 38.0M765.5 38.0L780.1 23.4M772.8 23.4V38.0M772.0 23.4L786.6 38.0M772.0 38.0L786.6 23.4M779.3 23.4V38.0M776.3 23.3L790.9 37.9M776.3 37.9L790.9 23.3M783.6 23.3V37.9M782.7 23.3L797.3 37.9M782.7 37.9L797.3 23.3M790.0 23.3V37.9M789.2 23.3L803.8 37.9M789.2 37.9L803.8 23.3M796.5 23.3V37.9M793.5 23.3L808.1 37.9M793.5 37.9L808.1 23.3M800.8 23.3V37.9M799.9 23.3L814.5 37.9M799.9 37.9L814.5 23.3M807.2 23.3V37.9M806.4 23.3L821.0 37.9M806.4 37.9L821.0 23.3M813.7 23.3V37.9M810.7 23.3L825.2 37.9M810.7 37.9L825.2 23.3M818.0 23.3V37.9M817.1 23.3L831.7 37.9M817.1 37.9L831.7 23.3M824.4 23.3V37.9M823.6 23.3L838.1 37.9M823.6 37.9L838.1 23.3M830.9 23.3V37.9M827.9 23.3L842.5 37.9M827.9 37.9L842.5 23.3M835.2 23.3V37.9M834.3 23.3L848.9 37.9M834.3 37.9L848.9 23.3M841.6 23.3V37.9M840.8 23.3L855.4 37.9M840.8 37.9L855.4 23.3M848.1 23.3V37.9M845.1 23.4L859.6 38.0M845.1 38.0L859.6 23.4M852.4 23.4V38.0M851.5 23.4L866.1 38.0M851.5 38.0L866.1 23.4M858.8 23.4V38.0M858.0 23.4L872.6 38.0M858.0 38.0L872.6 23.4M865.3 23.4V38.0M862.3 23.4L876.9 38.0M862.3 38.0L876.9 23.4M869.6 23.4V38.0M868.7 23.5L883.3 38.1M868.7 38.1L883.3 23.5M876.0 23.5V38.1M873.7 23.5L888.3 38.1M873.7 38.1L888.3 23.5M881.0 23.5V38.1"/>
</g>
<g stroke="#E46C0A" fill="none" stroke-linejoin="round">
<polyline stroke-width="2.5" points="125.2,801.0 129.4,801.0 135.8,801.0 140.1,801.0 146.6,801.0 153.0,801.0 157.3,801.0 163.8,801.0 170.2,801.0 174.5,801.0 181.0,801.0 187.4,801.0 191.7,801.0 198.2,801.0 204.6,801.0 208.9,801.0 215.4,801.0 221.8,801.0 226.1,801.0 232.6,801.0 239.0,801.0 243.3,801.0 249.8,801.0 256.2,801.0 260.5,801.0 267.0,801.0 273.4,801.0 277.7,800.9 284.2,800.9 290.6,800.9 294.9,800.9 301.4,800.9 307.8,800.9 312.1,800.9 318.6,800.9 325.0,800.9 329.3,800.9 335.8,800.9 342.2,800.9 346.5,800.9 353.0,800.9 359.4,800.8 363.7,800.8 370.2,800.8 376.6,800.8 380.9,800.8 387.4,800.6 393.8,800.2 398.1,799.8 404.6,798.3 411.0,797.0 415.3,796.0 421.8,794.1 428.2,792.1 432.5,790.8 439.0,788.8 445.4,786.1 449.7,784.4 456.2,781.9 462.6,779.3 466.9,777.2 473.4,773.4 479.8,769.2 484.1,766.0 490.6,760.3 497.0,754.1 501.3,750.5 507.8,744.2 514.2,734.6 518.5,725.3 525.0,711.1 531.4,695.3 535.7,681.2 542.2,663.0 548.6,637.6 552.9,619.5 559.4,600.3 565.8,579.6 570.1,549.0 576.6,520.7 583.0,483.8 587.3,455.1 593.8,420.5 600.2,390.0 604.5,362.0 611.0,331.1 617.4,306.6 621.7,281.6 628.2,256.7 634.6,234.1 638.9,217.6 645.4,198.0 651.8,181.5 656.1,169.0 662.6,154.0 669.0,141.4 673.3,133.5 679.8,122.2 686.2,108.3 690.5,100.6 697.0,91.1 703.4,84.0 707.7,78.1 714.2,70.0 720.6,65.4 724.9,62.2 731.4,57.3 737.8,53.2 742.1,50.8 748.6,47.5 755.0,44.3 759.3,42.9 765.8,40.7 772.2,38.5 776.5,37.2 783.0,36.1 789.4,35.0 793.7,34.3 800.2,33.6 806.6,33.2 810.9,33.1 817.4,32.9 823.8,32.7 828.1,32.6 834.6,32.5 841.0,32.3 845.3,32.3 851.8,32.2 858.2,32.1 862.5,32.1 869.0,32.0 875.4,31.9 879.7,31.9"/>
<path stroke-width="2.55" d="M118.8 794.6h12.8v12.8h-12.8zM123.0 794.6h12.8v12.8h-12.8zM129.4 794.6h12.8v12.8h-12.8zM133.7 794.6h12.8v12.8h-12.8zM140.2 794.6h12.8v12.8h-12.8zM146.6 794.6h12.8v12.8h-12.8zM150.9 794.6h12.8v12.8h-12.8zM157.4 794.6h12.8v12.8h-12.8zM163.8 794.6h12.8v12.8h-12.8zM168.1 794.6h12.8v12.8h-12.8zM174.6 794.6h12.8v12.8h-12.8zM181.0 794.6h12.8v12.8h-12.8zM185.3 794.6h12.8v12.8h-12.8zM191.8 794.6h12.8v12.8h-12.8zM198.2 794.6h12.8v12.8h-12.8zM202.5 794.6h12.8v12.8h-12.8zM209.0 794.6h12.8v12.8h-12.8zM215.4 794.6h12.8v12.8h-12.8zM219.7 794.6h12.8v12.8h-12.8zM226.2 794.6h12.8v12.8h-12.8zM232.6 794.6h12.8v12.8h-12.8zM236.9 794.6h12.8v12.8h-12.8zM243.4 794.6h12.8v12.8h-12.8zM249.8 794.6h12.8v12.8h-12.8zM254.1 794.6h12.8v12.8h-12.8zM260.6 794.6h12.8v12.8h-12.8zM267.0 794.6h12.8v12.8h-12.8zM271.3 794.5h12.8v12.8h-12.8zM277.8 794.5h12.8v12.8h-12.8zM284.2 794.5h12.8v12.8h-12.8zM288.5 794.5h12.8v12.8h-12.8zM295.0 794.5h12.8v12.8h-12.8zM301.4 794.5h12.8v12.8h-12.8zM305.7 794.5h12.8v12.8h-12.8zM312.2 794.5h12.8v12.8h-12.8zM318.6 794.5h12.8v12.8h-12.8zM322.9 794.5h12.8v12.8h-12.8zM329.4 794.5h12.8v12.8h-12.8zM335.8 794.5h12.8v12.8h-12.8zM340.1 794.5h12.8v12.8h-12.8zM346.6 794.5h12.8v12.8h-12.8zM353.0 794.4h12.8v12.8h-12.8zM357.3 794.4h12.8v12.8h-12.8zM363.8 794.4h12.8v12.8h-12.8zM370.2 794.4h12.8v12.8h-12.8zM374.5 794.4h12.8v12.8h-12.8zM381.0 794.2h12.8v12.8h-12.8zM387.4 793.8h12.8v12.8h-12.8zM391.7 793.4h12.8v12.8h-12.8zM398.2 791.9h12.8v12.8h-12.8zM404.6 790.6h12.8v12.8h-12.8zM408.9 789.6h12.8v12.8h-12.8zM415.4 787.7h12.8v12.8h-12.8zM421.8 785.7h12.8v12.8h-12.8zM426.1 784.4h12.8v12.8h-12.8zM432.6 782.4h12.8v12.8h-12.8zM439.0 779.7h12.8v12.8h-12.8zM443.3 778.0h12.8v12.8h-12.8zM449.8 775.5h12.8v12.8h-12.8zM456.2 772.9h12.8v12.8h-12.8zM460.5 770.8h12.8v12.8h-12.8zM467.0 767.0h12.8v12.8h-12.8zM473.4 762.8h12.8v12.8h-12.8zM477.7 759.6h12.8v12.8h-12.8zM484.2 753.9h12.8v12.8h-12.8zM490.6 747.7h12.8v12.8h-12.8zM494.9 744.1h12.8v12.8h-12.8zM501.4 737.8h12.8v12.8h-12.8zM507.8 728.2h12.8v12.8h-12.8zM512.1 718.9h12.8v12.8h-12.8zM518.6 704.7h12.8v12.8h-12.8zM525.0 688.9h12.8v12.8h-12.8zM529.3 674.8h12.8v12.8h-12.8zM535.8 656.6h12.8v12.8h-12.8zM542.2 631.2h12.8v12.8h-12.8zM546.5 613.1h12.8v12.8h-12.8zM553.0 593.9h12.8v12.8h-12.8zM559.4 573.2h12.8v12.8h-12.8zM563.7 542.6h12.8v12.8h-12.8zM570.2 514.3h12.8v12.8h-12.8zM576.6 477.4h12.8v12.8h-12.8zM580.9 448.7h12.8v12.8h-12.8zM587.4 414.1h12.8v12.8h-12.8zM593.8 383.6h12.8v12.8h-12.8zM598.1 355.6h12.8v12.8h-12.8zM604.6 324.7h12.8v12.8h-12.8zM611.0 300.2h12.8v12.8h-12.8zM615.3 275.2h12.8v12.8h-12.8zM621.8 250.3h12.8v12.8h-12.8zM628.2 227.7h12.8v12.8h-12.8zM632.5 211.2h12.8v12.8h-12.8zM639.0 191.6h12.8v12.8h-12.8zM645.4 175.1h12.8v12.8h-12.8zM649.7 162.6h12.8v12.8h-12.8zM656.2 147.6h12.8v12.8h-12.8zM662.6 135.0h12.8v12.8h-12.8zM666.9 127.1h12.8v12.8h-12.8zM673.4 115.8h12.8v12.8h-12.8zM679.8 101.9h12.8v12.8h-12.8zM684.1 94.2h12.8v12.8h-12.8zM690.6 84.7h12.8v12.8h-12.8zM697.0 77.6h12.8v12.8h-12.8zM701.3 71.7h12.8v12.8h-12.8zM707.8 63.6h12.8v12.8h-12.8zM714.2 59.0h12.8v12.8h-12.8zM718.5 55.8h12.8v12.8h-12.8zM725.0 50.9h12.8v12.8h-12.8zM731.4 46.8h12.8v12.8h-12.8zM735.7 44.4h12.8v12.8h-12.8zM742.2 41.1h12.8v12.8h-12.8zM748.6 37.9h12.8v12.8h-12.8zM752.9 36.5h12.8v12.8h-12.8zM759.4 34.3h12.8v12.8h-12.8zM765.8 32.1h12.8v12.8h-12.8zM770.1 30.8h12.8v12.8h-12.8zM776.6 29.7h12.8v12.8h-12.8zM783.0 28.6h12.8v12.8h-12.8zM787.3 27.9h12.8v12.8h-12.8zM793.8 27.2h12.8v12.8h-12.8zM800.2 26.8h12.8v12.8h-12.8zM804.5 26.7h12.8v12.8h-12.8zM811.0 26.5h12.8v12.8h-12.8zM817.4 26.3h12.8v12.8h-12.8zM821.7 26.2h12.8v12.8h-12.8zM828.2 26.1h12.8v12.8h-12.8zM834.6 25.9h12.8v12.8h-12.8zM838.9 25.9h12.8v12.8h-12.8zM845.4 25.8h12.8v12.8h-12.8zM851.8 25.7h12.8v12.8h-12.8zM856.1 25.7h12.8v12.8h-12.8zM862.6 25.6h12.8v12.8h-12.8zM869.0 25.5h12.8v12.8h-12.8zM873.3 25.5h12.8v12.8h-12.8z"/>
</g>
<g stroke="#604A7B" fill="none">
<path stroke-width="2.5" d="M200.5 109.1H271.0"/>
<path stroke-width="2.55" d="M228.5 109.1H243.5M236.0 101.6V116.6"/>
</g>
<text class="leg" x="279" y="121.3">NaX</text>
<g stroke="#C00000" fill="none">
<path stroke-width="2.5" d="M200.5 149.5H271.0"/>
<path stroke-width="2.55" d="M229.7 149.5a6.3 6.3 0 1 0 12.6 0a6.3 6.3 0 1 0 -12.6 0z"/>
</g>
<text class="leg" x="279" y="161.7">CuX<tspan dx="2.6">-</tspan><tspan dx="0.3">B1</tspan></text>
<g stroke="#77933C" fill="none">
<path stroke-width="2.5" d="M200.5 189.8H271.0"/>
<path stroke-width="2.55" d="M228.7 182.5L243.3 197.1M228.7 197.1L243.3 182.5M236.0 182.5V197.1"/>
</g>
<text class="leg" x="279" y="202.0">CuX<tspan dx="2.6">-</tspan><tspan dx="0.3">B2</tspan></text>
<g stroke="#E46C0A" fill="none">
<path stroke-width="2.5" d="M200.5 232.2H271.0"/>
<path stroke-width="2.55" d="M229.6 225.8h12.8v12.8h-12.8z"/>
</g>
<text class="leg" x="279" y="244.4">CuX<tspan dx="2.6">-</tspan><tspan dx="0.3">B3</tspan></text>
</svg>
</body>
</html>
